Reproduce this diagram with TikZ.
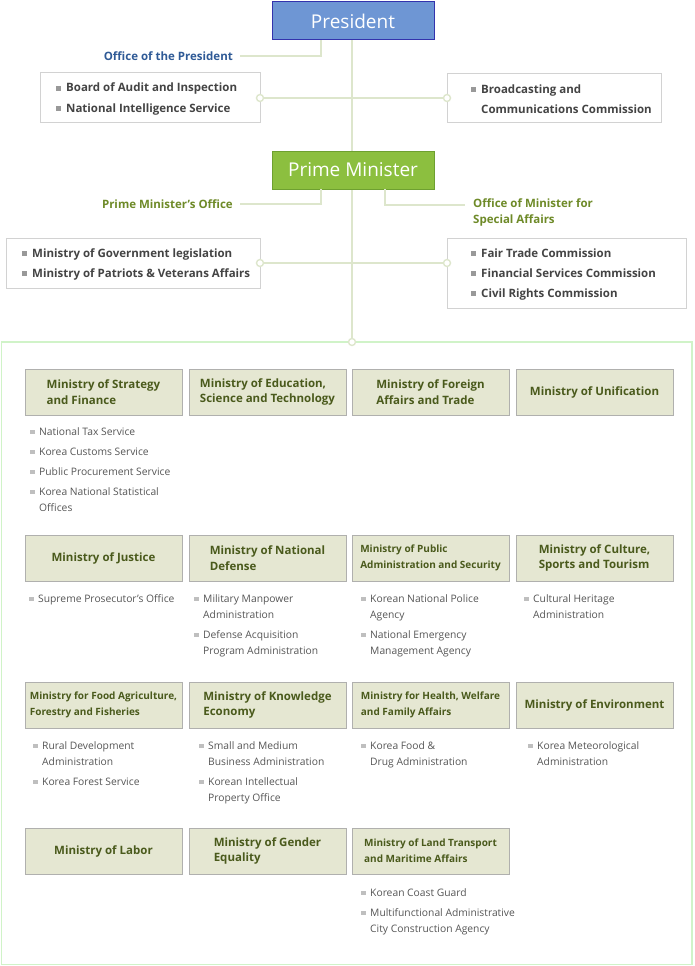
\documentclass[tikz,border=0pt]{standalone}
\usepackage{fontspec}
\setmainfont{Open Sans}
\definecolor{lnc}{HTML}{DDE6CC}
\definecolor{bluet}{HTML}{2F5A96}
\definecolor{greent}{HTML}{6E8A28}
\definecolor{minf}{HTML}{E5E7D2}
\definecolor{mint}{HTML}{4A5A1C}
\definecolor{boxd}{HTML}{D2D2D2}
\definecolor{txt}{HTML}{555555}
\definecolor{dtxt}{HTML}{444444}
\tikzset{
 lnk/.style={draw=lnc,line width=1.6pt},
 knob/.style={circle,draw=lnc,line width=1.4pt,fill=white,minimum size=7pt,inner sep=0pt},
 top/.style={draw,line width=1pt,text=white,font=\fontsize{19}{22}\selectfont,minimum width=162pt,minimum height=38pt,inner sep=0pt},
 grp/.style={draw=boxd,line width=0.8pt,fill=white},
 gtxt/.style={anchor=base west,inner sep=0pt,text=dtxt,font=\fontsize{11.5}{13}\selectfont\bfseries},
 off/.style={inner sep=0pt,font=\fontsize{11.5}{13}\selectfont\bfseries},
 mbox/.style={draw=white!85!minf!70!black,fill=minf,line width=0.8pt,minimum width=157pt,minimum height=46pt,inner sep=0pt,text=mint,align=left,font=\fontsize{11.5}{15.5}\selectfont\bfseries},
 mboxs/.style={mbox,font=\fontsize{10}{16}\selectfont\bfseries},
 itm/.style={anchor=base west,inner sep=0pt,text=txt,font=\fontsize{10.3}{12}\selectfont},
 bul/.style={fill=black!25},
}
\newcommand\itm[4]{\node[itm] (#1) at (#2,#3+4) {#4};\fill[bul] ([xshift=-9pt,yshift=1pt]#1.base west) rectangle +(4.5pt,4.5pt);}
\newcommand\itc[4]{\node[itm] (#1) at (#2,#3+4) {#4};}
\newcommand\gi[4]{\node[gtxt] (#1) at (#2,#3+4) {#4};}
\newcommand\gbul[1]{\fill[black!40] ([xshift=-10pt,yshift=1.5pt]#1.base west) rectangle +(4.5pt,4.5pt);}
\begin{document}
\begin{tikzpicture}[x=1pt,y=-1pt]
\useasboundingbox (0,0) rectangle (695,966);
% trunk
\coordinate (bt) at (352,342);
\draw[lnk] (352,40) -- (bt);
% President
\node[top,draw=blue!60!black!80,fill={rgb,255:red,110;green,150;blue,212}] (pres) at (353,21) {President};
\node[off,text=bluet,anchor=east] (oop) at (233,56) {Office of the President};
\draw[lnk] ([xshift=7pt]oop.east) -- (321,56) -- (321,40);
\draw[grp] (40,72) rectangle (260,122);
\draw[grp] (447,73) rectangle (661,122);
\gi{g1}{66}{88}{Board of Audit and Inspection} \gbul{g1}
\gi{g2}{66}{108}{National Intelligence Service} \gbul{g2}
\gi{g3}{481}{89}{Broadcasting and} \gbul{g3}
\gi{g4}{481}{109}{Communications Commission}
\node[knob] (k1) at (260,98) {};
\node[knob] (k2) at (447,98) {};
\draw[lnk] (k1) -- (k2);
% PM
\node[top,draw={rgb,255:red,110;green,160;blue,48},fill={rgb,255:red,140;green,191;blue,63}] (pm) at (353,170) {Prime Minister};
\node[off,text=greent,anchor=east] (pmo) at (233,204) {Prime Minister's Office};
\draw[lnk] ([xshift=7pt]pmo.east) -- (321,204) -- (321,189);
\node[off,text=greent,anchor=west,align=left,font=\fontsize{11.5}{16}\selectfont\bfseries] (oms) at (473,212) {Office of Minister for\\Special Affairs};
\draw[lnk] (385,189) -- (385,205) -- (465,205);
\draw[grp] (6,238) rectangle (260,288);
\draw[grp] (447,238) rectangle (686,308);
\gi{g5}{32}{253}{Ministry of Government legislation} \gbul{g5}
\gi{g6}{32}{273}{Ministry of Patriots \& Veterans Affairs} \gbul{g6}
\gi{g7}{481}{253}{Fair Trade Commission} \gbul{g7}
\gi{g8}{481}{273}{Financial Services Commission} \gbul{g8}
\gi{g9}{481}{293}{Civil Rights Commission} \gbul{g9}
\node[knob] (k3) at (260,263) {};
\node[knob] (k4) at (447,263) {};
\draw[lnk] (k3) -- (k4);
% container
\draw[draw=lnc!80!green!60!white,line width=1.6pt] (1.5,342) rectangle (692,964.5);
\node[knob] (k5) at (bt) {};
% ministries row 1
\node[mbox] (m11) at (103.5,392) {Ministry of Strategy\\and Finance};
\node[mbox] (m12) at (267.5,392) {Ministry of Education,\\Science and Technology};
\node[mbox] (m13) at (430.5,392) {Ministry of Foreign\\Affairs and Trade};
\node[mbox] (m14) at (594.5,392) {Ministry of Unification};
\itm{a1}{39}{431}{National Tax Service}
\itm{a2}{39}{451}{Korea Customs Service}
\itm{a3}{39}{471}{Public Procurement Service}
\itm{a4}{39}{491}{Korea National Statistical}
\itc{a4b}{39}{507}{Offices}
% row 2
\node[mbox] (m21) at (103.5,558) {Ministry of Justice};
\node[mbox] (m22) at (267.5,558) {Ministry of National\\Defense};
\node[mboxs] (m23) at (430.5,558) {Ministry of Public\\Administration and Security};
\node[mbox] (m24) at (594.5,558) {Ministry of Culture,\\Sports and Tourism};
\itm{b1}{38}{598}{Supreme Prosecutor's Office}
\itm{b2}{203}{598}{Military Manpower}
\itc{b2b}{203}{614}{Administration}
\itm{b3}{203}{634}{Defense Acquisition}
\itc{b3b}{203}{650}{Program Administration}
\itm{b4}{370}{598}{Korean National Police}
\itc{b4b}{370}{614}{Agency}
\itm{b5}{370}{634}{National Emergency}
\itc{b5b}{370}{650}{Management Agency}
\itm{b6}{533}{598}{Cultural Heritage}
\itc{b6b}{533}{614}{Administration}
% row 3
\node[mboxs] (m31) at (103.5,705) {Ministry for Food Agriculture,\\Forestry and Fisheries};
\node[mbox] (m32) at (267.5,705) {Ministry of Knowledge\\Economy};
\node[mboxs] (m33) at (430.5,705) {Ministry for Health, Welfare\\and Family Affairs};
\node[mbox] (m34) at (594.5,705) {Ministry of Environment};
\itm{c1}{42}{745}{Rural Development}
\itc{c1b}{42}{761}{Administration}
\itm{c2}{42}{781}{Korea Forest Service}
\itm{c3}{208}{745}{Small and Medium}
\itc{c3b}{208}{761}{Business Administration}
\itm{c4}{208}{781}{Korean Intellectual}
\itc{c4b}{208}{797}{Property Office}
\itm{c5}{370}{745}{Korea Food \&}
\itc{c5b}{370}{761}{Drug Administration}
\itm{c6}{537}{745}{Korea Meteorological}
\itc{c6b}{537}{761}{Administration}
% row 4
\node[mbox] (m41) at (103.5,851) {Ministry of Labor};
\node[mbox] (m42) at (267.5,851) {Ministry of Gender\\Equality};
\node[mboxs] (m43) at (430.5,851) {Ministry of Land Transport\\and Maritime Affairs};
\itm{d1}{370}{892}{Korean Coast Guard}
\itm{d2}{370}{912}{Multifunctional Administrative}
\itc{d2b}{370}{928}{City Construction Agency}
\end{tikzpicture}
\end{document}
